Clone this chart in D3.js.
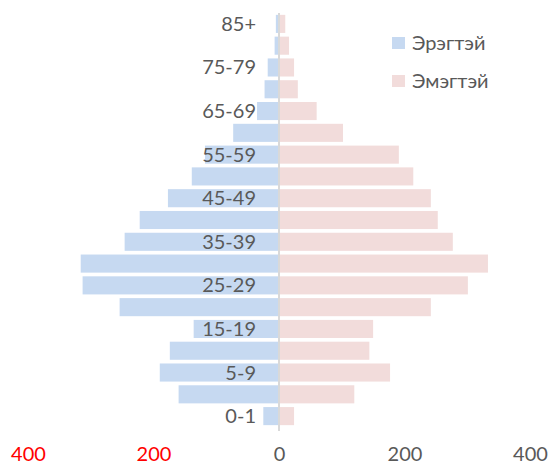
<!DOCTYPE html>
<html>
<head>
<meta charset="utf-8">
<script src="https://cdn.jsdelivr.net/npm/d3@7"></script>
<style>
  body { margin: 0; background: #fff; }
  svg { display: block; font-family: Lato, "Open Sans", sans-serif; }
</style>
</head>
<body>
<svg width="550" height="465"></svg>
<script>
// Age groups, bottom to top
const ageGroups = ["0-1", "1-4", "5-9", "10-14", "15-19", "20-24", "25-29", "30-34", "35-39",
                   "40-44", "45-49", "50-54", "55-59", "60-64", "65-69", "70-74", "75-79", "80-84", "85+"];
// only every second group gets a label
const shownLabels = ["0-1", "5-9", "15-19", "25-29", "35-39", "45-49", "55-59", "65-69", "75-79", "85+"];

const maleValues   = [25, 160, 190, 174, 136, 254, 313, 316, 246, 222, 177, 139, 118, 73, 35, 23, 18, 7, 5];
const femaleValues = [24, 120, 177, 144, 150, 242, 301, 333, 277, 253, 242, 214, 191, 102, 60, 30, 24, 16, 10];

const xTicks = [-400, -200, 0, 200, 400];
const seriesNames = ["Эрэгтэй", "Эмэгтэй"];
const colors = ["#c6d9f1", "#f2dcdb"];

const data = ageGroups.map((g, i) => ({ group: g, male: maleValues[i], female: femaleValues[i] }));

const svg = d3.select("svg");

// Scales
const x = d3.scaleLinear()
    .domain([-400, 400])
    .range([28, 530]);

const y = d3.scaleBand()
    .domain(ageGroups.slice().reverse())
    .range([13, 427])
    .paddingInner(0.17)
    .paddingOuter(0.085);

// Male bars (left)
svg.selectAll(".male")
    .data(data)
    .enter()
    .append("rect")
    .attr("class", "male")
    .attr("x", d => x(-d.male))
    .attr("y", d => y(d.group))
    .attr("width", d => x(0) - x(-d.male))
    .attr("height", y.bandwidth())
    .attr("fill", colors[0]);

// Female bars (right)
svg.selectAll(".female")
    .data(data)
    .enter()
    .append("rect")
    .attr("class", "female")
    .attr("x", x(0))
    .attr("y", d => y(d.group))
    .attr("width", d => x(d.female) - x(0))
    .attr("height", y.bandwidth())
    .attr("fill", colors[1]);

// Zero axis line
svg.append("line")
    .attr("x1", x(0))
    .attr("x2", x(0))
    .attr("y1", 13)
    .attr("y2", 431)
    .attr("stroke", "#d9d9d9")
    .attr("stroke-width", 2);

// Category labels
svg.selectAll(".cat")
    .data(shownLabels)
    .enter()
    .append("text")
    .attr("class", "cat")
    .attr("x", x(0) - 23)
    .attr("y", d => y(d) + y.bandwidth() / 2)
    .attr("dy", "0.35em")
    .attr("text-anchor", "end")
    .style("font-size", "20px")
    .attr("fill", "#595959")
    .text(d => d);

// Bottom axis labels
const xAxis = svg.append("g")
    .attr("transform", "translate(0,447)")
    .call(d3.axisBottom(x).tickValues(xTicks).tickSize(0).tickPadding(0).tickFormat(d => Math.abs(d)));
xAxis.select(".domain").remove();
xAxis.selectAll("text")
    .attr("dy", "0.71em")
    .style("font-size", "20px")
    .style("font-family", "Lato, 'Open Sans', sans-serif")
    .attr("fill", d => d < 0 ? "#ff0000" : "#595959");

// Legend
const legend = svg.append("g")
    .attr("transform", "translate(392,37)");

seriesNames.forEach((name, i) => {
    legend.append("rect")
        .attr("x", 0)
        .attr("y", i * 38)
        .attr("width", 13)
        .attr("height", 12)
        .attr("fill", colors[i]);

    legend.append("text")
        .attr("x", 20)
        .attr("y", i * 38 + 6)
        .attr("dy", "0.35em")
        .style("font-size", "20px")
        .attr("fill", "#595959")
        .text(name);
});
</script>
</body>
</html>
